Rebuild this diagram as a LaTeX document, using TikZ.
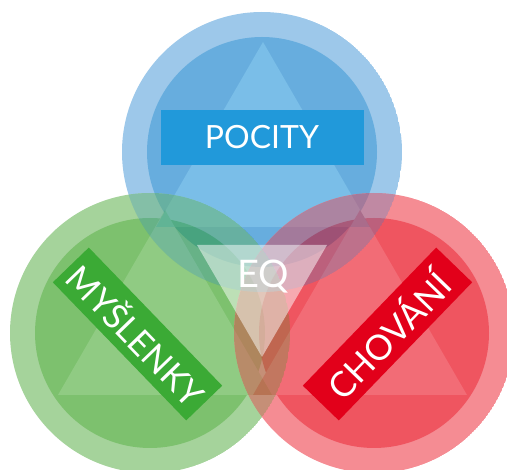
\documentclass[tikz,border=0pt]{standalone}
\usepackage{fontspec}
\setmainfont{Lato}
\definecolor{bRing}{RGB}{119,179,226}
\definecolor{bIn}{RGB}{45,142,209}
\definecolor{bTri}{RGB}{70,165,223}
\definecolor{gRing}{RGB}{130,194,116}
\definecolor{gIn}{RGB}{75,169,54}
\definecolor{gTri}{RGB}{101,183,83}
\definecolor{rRing}{RGB}{241,95,106}
\definecolor{rIn}{RGB}{233,19,35}
\definecolor{rTri}{RGB}{237,51,65}
\definecolor{bBox}{RGB}{33,153,218}
\definecolor{gBox}{RGB}{59,170,53}
\definecolor{rBox}{RGB}{226,0,26}
\newcommand\bluedisc{%
  \clip (262,152) circle[radius=140pt];
  \fill[bRing] (262,152) circle[radius=140pt];
  \fill[bIn] (262,152) circle[radius=115pt];
  \fill[bTri] (263,42) -- (156,227) -- (370,227) -- cycle;}
\newcommand\greendisc{%
  \clip (150,333) circle[radius=140pt];
  \fill[gRing] (150,333) circle[radius=140pt];
  \fill[gIn] (150,333) circle[radius=115pt];
  \fill[gTri] (165,210) -- (58,395) -- (272,395) -- cycle;}
\newcommand\reddisc{%
  \clip (374,333) circle[radius=140pt];
  \fill[rRing] (374,333) circle[radius=140pt];
  \fill[rIn] (374,333) circle[radius=115pt];
  \fill[rTri] (360,210) -- (253,395) -- (467,395) -- cycle;}
\begin{document}
\begin{tikzpicture}[x=1pt,y=-1pt,
  lblbox/.style={text=white, inner sep=0pt, outer sep=0pt, anchor=center},
  grp/.style={transparency group, opacity=0.72},
  mixgrp/.style={transparency group, opacity=0.25}]
\useasboundingbox (0,0) rectangle (507,470);
% circles
\begin{scope}[grp]\bluedisc\end{scope}
\begin{scope}[grp]\greendisc\end{scope}
\begin{scope}[grp]\reddisc\end{scope}
% soften the overlaps toward mixed colours
\begin{scope}
  \clip (150,333) circle[radius=140pt];
  \begin{scope}[mixgrp]\bluedisc\end{scope}
\end{scope}
\begin{scope}
  \clip (374,333) circle[radius=140pt];
  \begin{scope}[mixgrp]\bluedisc\end{scope}
\end{scope}
\begin{scope}
  \clip (374,333) circle[radius=140pt];
  \begin{scope}[mixgrp]\greendisc\end{scope}
\end{scope}
% label boxes
\node[lblbox, fill=bBox, minimum width=203pt, minimum height=55pt,
  font=\fontsize{32}{32}\selectfont] (pocity) at (262,137.5) {POCITY};
\node[lblbox, fill=gBox, minimum width=192pt, minimum height=50pt, rotate=-46,
  font=\fontsize{34.5}{34.5}\selectfont] (mysl) at (137.5,334) {MYŠLENKY};
\node[lblbox, fill=rBox, minimum width=192pt, minimum height=50pt, rotate=46,
  font=\fontsize{35}{35}\selectfont] (chov) at (387.5,334) {CHOVÁNÍ};
% EQ triangle
\fill[white, fill opacity=0.5] (197,245) -- (327,245) -- (262,357) -- cycle;
\node[lblbox, font=\fontsize{38}{38}\selectfont] (eq) at (263,277) {EQ};
\end{tikzpicture}
\end{document}
